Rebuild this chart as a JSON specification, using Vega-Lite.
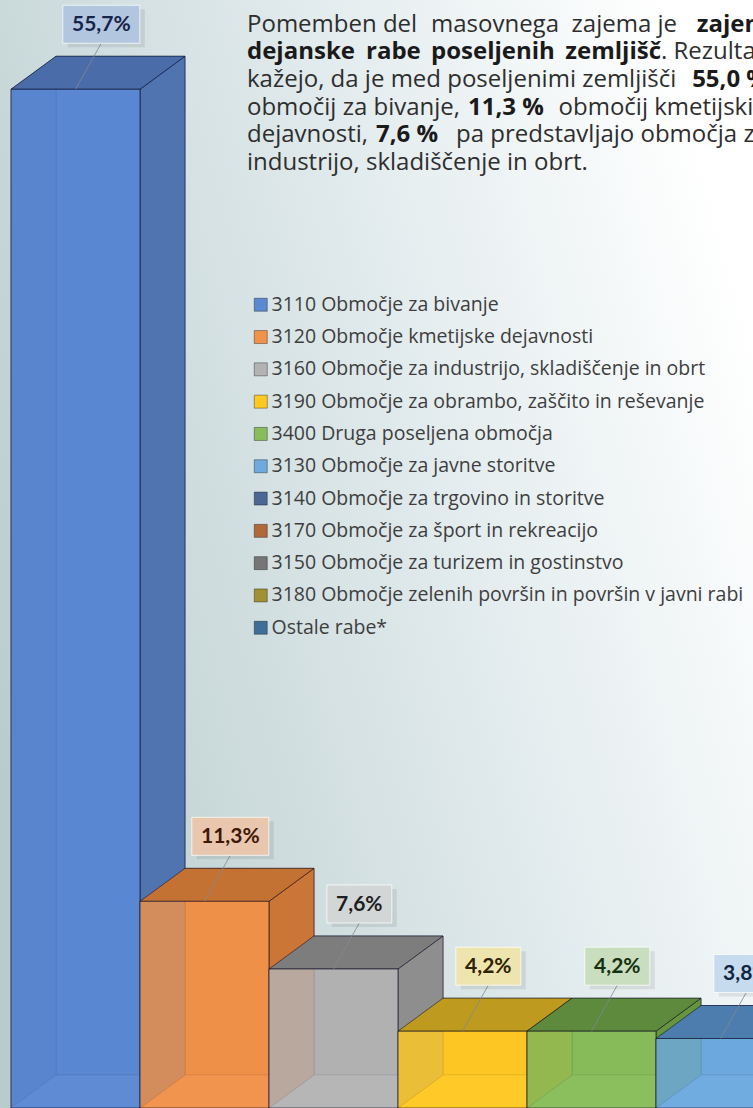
{
  "$schema": "https://vega.github.io/schema/vega-lite/v6.json",
  "width": 753,
  "height": 1108,
  "padding": 0,
  "autosize": {"type": "none"},
  "background": "#ffffff",
  "config": {"view": {"stroke": null}},
  "datasets": {
    "bars": [
      {"cat": "3110 Območje za bivanje", "value": 55.7},
      {"cat": "3120 Območje kmetijske dejavnosti", "value": 11.3},
      {"cat": "3160 Območje za industrijo, skladiščenje in obrt", "value": 7.6},
      {"cat": "3190 Območje za obrambo, zaščito in reševanje", "value": 4.2},
      {"cat": "3400 Druga poseljena območja", "value": 4.2},
      {"cat": "3130 Območje za javne storitve", "value": 3.8}
    ]
  },
  "resolve": {"scale": {"color": "independent"}},
  "layer": [
    {
      "data": {"values": [{}]},
      "mark": {"type": "rect", "color": {"gradient": "linear", "x1": 0, "y1": 0.7, "x2": 1, "y2": 0.3, "stops": [{"offset": 0, "color": "#B9CCCD"}, {"offset": 0.3, "color": "#CEDCDD"}, {"offset": 0.65, "color": "#E6EEF0"}, {"offset": 1, "color": "#FFFFFF"}]}},
      "encoding": {"x": {"value": 0}, "x2": {"value": 753}, "y": {"value": 0}, "y2": {"value": 1108}}
    },
    {
      "data": {"name": "bars"},
      "transform": [
        {"window": [{"op": "row_number", "as": "rn"}]},
        {"calculate": "datum.rn - 1 + 0.3488", "as": "bx0"},
        {"calculate": "datum.rn + 0.3488", "as": "bx1"},
        {"calculate": "1.804", "as": "by0"},
        {"calculate": "datum.value + 1.804", "as": "by1"}
      ],
      "mark": {"type": "rect", "stroke": "rgba(0,0,30,0.45)", "strokeWidth": 1},
      "encoding": {
        "x": {"field": "bx0", "type": "quantitative", "scale": {"domain": [-0.0853, 5.752], "nice": false, "zero": false}, "axis": null},
        "x2": {"field": "bx1"},
        "y": {"field": "by0", "type": "quantitative", "scale": {"domain": [0, 60.58], "nice": false}, "axis": null},
        "y2": {"field": "by1"},
        "color": {"field": "cat", "type": "nominal", "legend": null, "scale": {"domain": ["3110 Območje za bivanje", "3120 Območje kmetijske dejavnosti", "3160 Območje za industrijo, skladiščenje in obrt", "3190 Območje za obrambo, zaščito in reševanje", "3400 Druga poseljena območja", "3130 Območje za javne storitve", "3140 Območje za trgovino in storitve", "3170 Območje za šport in rekreacijo", "3150 Območje za turizem in gostinstvo", "3180 Območje zelenih površin in površin v javni rabi", "Ostale rabe*"], "range": ["#5581CB", "#E6863C", "#A8A8A8", "#F2BD1C", "#7FB353", "#63A0D8", "#3E5A8A", "#94522A", "#5F5F5F", "#8A7420", "#2F5F8C"]}}
      }
    },
    {
      "data": {"name": "bars"},
      "transform": [
        {"window": [{"op": "row_number", "as": "rn"}]},
        {"calculate": "[0, 1]", "as": "k"},
        {"flatten": ["k"]},
        {"calculate": "datum.rn - 1 + datum.k * 0.3488", "as": "ax"},
        {"calculate": "datum.k * 1.804", "as": "ay0"},
        {"calculate": "datum.value + datum.k * 1.804", "as": "ay1"}
      ],
      "mark": {"type": "area", "orient": "vertical", "stroke": "rgba(0,0,30,0.35)", "strokeWidth": 1},
      "encoding": {
        "x": {"field": "ax", "type": "quantitative"},
        "y": {"field": "ay0", "type": "quantitative", "stack": null},
        "y2": {"field": "ay1"},
        "color": {"field": "cat", "type": "nominal", "legend": null, "scale": {"domain": ["3110 Območje za bivanje", "3120 Območje kmetijske dejavnosti", "3160 Območje za industrijo, skladiščenje in obrt", "3190 Območje za obrambo, zaščito in reševanje", "3400 Druga poseljena območja", "3130 Območje za javne storitve", "3140 Območje za trgovino in storitve", "3170 Območje za šport in rekreacijo", "3150 Območje za turizem in gostinstvo", "3180 Območje zelenih površin in površin v javni rabi", "Ostale rabe*"], "range": ["#4A74BC", "#D87A34", "#9A9A9A", "#E3B01A", "#72A549", "#5793CB", "#34507E", "#874A24", "#555555", "#7E6A1C", "#28557F"]}}
      }
    },
    {
      "data": {"name": "bars"},
      "transform": [
        {"window": [{"op": "row_number", "as": "rn"}]},
        {"calculate": "[0, 1]", "as": "k"},
        {"flatten": ["k"]},
        {"calculate": "datum.rn - 1 + datum.k * 0.3488", "as": "fx0"},
        {"calculate": "datum.rn + datum.k * 0.3488", "as": "fx1"},
        {"calculate": "datum.k * 1.804", "as": "fy"}
      ],
      "mark": {"type": "area", "orient": "horizontal", "stroke": "rgba(0,0,30,0.35)", "strokeWidth": 1},
      "encoding": {
        "y": {"field": "fy", "type": "quantitative"},
        "x": {"field": "fx0", "type": "quantitative", "stack": null},
        "x2": {"field": "fx1"},
        "color": {"field": "cat", "type": "nominal", "legend": null, "scale": {"domain": ["3110 Območje za bivanje", "3120 Območje kmetijske dejavnosti", "3160 Območje za industrijo, skladiščenje in obrt", "3190 Območje za obrambo, zaščito in reševanje", "3400 Druga poseljena območja", "3130 Območje za javne storitve", "3140 Območje za trgovino in storitve", "3170 Območje za šport in rekreacijo", "3150 Območje za turizem in gostinstvo", "3180 Območje zelenih površin in površin v javni rabi", "Ostale rabe*"], "range": ["#6A96DA", "#F5A25E", "#C0C0C0", "#FFD43A", "#96C86A", "#7EB6E6", "#4A6796", "#B0693A", "#767676", "#A38F34", "#3F6E99"]}}
      }
    },
    {
      "data": {"name": "bars"},
      "transform": [
        {"window": [{"op": "row_number", "as": "rn"}]},
        {"calculate": "[0, 1]", "as": "k"},
        {"flatten": ["k"]},
        {"calculate": "datum.rn + datum.k * 0.3488", "as": "sx"},
        {"calculate": "datum.k * 1.804", "as": "sy0"},
        {"calculate": "datum.value + datum.k * 1.804", "as": "sy1"}
      ],
      "mark": {"type": "area", "orient": "vertical", "stroke": "rgba(0,0,30,0.5)", "strokeWidth": 1},
      "encoding": {
        "x": {"field": "sx", "type": "quantitative"},
        "y": {"field": "sy0", "type": "quantitative", "stack": null},
        "y2": {"field": "sy1"},
        "color": {"field": "cat", "type": "nominal", "legend": null, "scale": {"domain": ["3110 Območje za bivanje", "3120 Območje kmetijske dejavnosti", "3160 Območje za industrijo, skladiščenje in obrt", "3190 Območje za obrambo, zaščito in reševanje", "3400 Druga poseljena območja", "3130 Območje za javne storitve", "3140 Območje za trgovino in storitve", "3170 Območje za šport in rekreacijo", "3150 Območje za turizem in gostinstvo", "3180 Območje zelenih površin in površin v javni rabi", "Ostale rabe*"], "range": ["#4F74B0", "#CB7637", "#8E8E8E", "#C9A11E", "#67943F", "#5287BA", "#2F4770", "#7D3F18", "#4C4C4C", "#7A6520", "#264D72"]}}
      }
    },
    {
      "data": {"name": "bars"},
      "transform": [
        {"window": [{"op": "row_number", "as": "rn"}]},
        {"calculate": "[0, 1]", "as": "k"},
        {"flatten": ["k"]},
        {"calculate": "datum.rn - 1 + datum.k * 0.3488", "as": "tx0"},
        {"calculate": "datum.rn + datum.k * 0.3488", "as": "tx1"},
        {"calculate": "datum.value + datum.k * 1.804", "as": "ty"}
      ],
      "mark": {"type": "area", "orient": "horizontal", "stroke": "rgba(0,0,30,0.5)", "strokeWidth": 1},
      "encoding": {
        "y": {"field": "ty", "type": "quantitative"},
        "x": {"field": "tx0", "type": "quantitative", "stack": null},
        "x2": {"field": "tx1"},
        "color": {"field": "cat", "type": "nominal", "legend": null, "scale": {"domain": ["3110 Območje za bivanje", "3120 Območje kmetijske dejavnosti", "3160 Območje za industrijo, skladiščenje in obrt", "3190 Območje za obrambo, zaščito in reševanje", "3400 Druga poseljena območja", "3130 Območje za javne storitve", "3140 Območje za trgovino in storitve", "3170 Območje za šport in rekreacijo", "3150 Območje za turizem in gostinstvo", "3180 Območje zelenih površin in površin v javni rabi", "Ostale rabe*"], "range": ["#4A6CA8", "#C47234", "#7D7D7D", "#BE9A1E", "#5E8A3D", "#4C7DAE", "#2F4770", "#7D3F18", "#4C4C4C", "#7A6520", "#264D72"]}}
      }
    },
    {
      "data": {"name": "bars"},
      "transform": [
        {"window": [{"op": "row_number", "as": "rn"}]},
        {"calculate": "datum.rn - 1", "as": "x0"},
        {"calculate": "datum.rn", "as": "x1"},
        {"calculate": "0", "as": "y0"}
      ],
      "mark": {"type": "rect", "fillOpacity": 0.82, "stroke": "rgba(0,0,30,0.55)", "strokeWidth": 1},
      "encoding": {
        "x": {"field": "x0", "type": "quantitative"},
        "x2": {"field": "x1"},
        "y": {"field": "y0", "type": "quantitative"},
        "y2": {"field": "value"},
        "color": {"field": "cat", "type": "nominal", "title": null,
          "scale": {"domain": ["3110 Območje za bivanje", "3120 Območje kmetijske dejavnosti", "3160 Območje za industrijo, skladiščenje in obrt", "3190 Območje za obrambo, zaščito in reševanje", "3400 Druga poseljena območja", "3130 Območje za javne storitve", "3140 Območje za trgovino in storitve", "3170 Območje za šport in rekreacijo", "3150 Območje za turizem in gostinstvo", "3180 Območje zelenih površin in površin v javni rabi", "Ostale rabe*"], "range": ["#5B89D2", "#F0924A", "#B3B3B3", "#FFC823", "#89BD5C", "#6EA9DF", "#4A6796", "#B0693A", "#767676", "#A38F34", "#3F6E99"]},
          "legend": {"orient": "none", "legendX": 251, "legendY": 295, "padding": 0, "symbolType": "square", "symbolSize": 169, "symbolStrokeWidth": 1, "symbolStrokeColor": "rgba(0,0,0,0.35)", "symbolOpacity": 1, "labelFont": "Open Sans", "labelFontSize": 19.5, "labelColor": "#3E3E3E", "labelOffset": 1, "labelLimit": 700, "rowPadding": 11.3}}
      }
    },
    {
      "data": {"name": "bars"},
      "transform": [
        {"window": [{"op": "row_number", "as": "rn"}]},
        {"calculate": "datum.rn - 0.5", "as": "lx0"},
        {"calculate": "datum.rn - 0.3", "as": "lx1"},
        {"calculate": "datum.value + 2.515", "as": "ly1"}
      ],
      "mark": {"type": "rule", "color": "#7F8A90", "strokeWidth": 1, "opacity": 0.8},
      "encoding": {
        "x": {"field": "lx0", "type": "quantitative"},
        "x2": {"field": "lx1"},
        "y": {"field": "value", "type": "quantitative"},
        "y2": {"field": "ly1"}
      }
    },
    {
      "data": {"name": "bars"},
      "transform": [
        {"window": [{"op": "row_number", "as": "rn"}]},
        {"calculate": "replace(format(datum.value, '.1f'), '.', ',') + '%'", "as": "lab"},
        {"calculate": "(12 * length(datum.lab) + 17) / 258", "as": "hw"},
        {"calculate": "datum.rn - 0.3 - datum.hw", "as": "bx0"},
        {"calculate": "datum.rn - 0.3 + datum.hw", "as": "bx1"},
        {"calculate": "datum.value + 2.515", "as": "by0"},
        {"calculate": "datum.value + 4.593", "as": "by1"}
      ],
      "mark": {"type": "rect", "color": "#000000", "opacity": 0.08, "xOffset": 5, "x2Offset": 5, "yOffset": 4, "y2Offset": 4},
      "encoding": {
        "x": {"field": "bx0", "type": "quantitative"},
        "x2": {"field": "bx1"},
        "y": {"field": "by0", "type": "quantitative"},
        "y2": {"field": "by1"}
      }
    },
    {
      "data": {"name": "bars"},
      "transform": [
        {"window": [{"op": "row_number", "as": "rn"}]},
        {"calculate": "replace(format(datum.value, '.1f'), '.', ',') + '%'", "as": "lab"},
        {"calculate": "(12 * length(datum.lab) + 17) / 258", "as": "hw"},
        {"calculate": "datum.rn - 0.3 - datum.hw", "as": "bx0"},
        {"calculate": "datum.rn - 0.3 + datum.hw", "as": "bx1"},
        {"calculate": "datum.value + 2.515", "as": "by0"},
        {"calculate": "datum.value + 4.593", "as": "by1"}
      ],
      "mark": {"type": "rect", "stroke": "rgba(255,255,255,0.75)", "strokeWidth": 1},
      "encoding": {
        "x": {"field": "bx0", "type": "quantitative"},
        "x2": {"field": "bx1"},
        "y": {"field": "by0", "type": "quantitative"},
        "y2": {"field": "by1"},
        "color": {"field": "cat", "type": "nominal", "legend": null, "scale": {"domain": ["3110 Območje za bivanje", "3120 Območje kmetijske dejavnosti", "3160 Območje za industrijo, skladiščenje in obrt", "3190 Območje za obrambo, zaščito in reševanje", "3400 Druga poseljena območja", "3130 Območje za javne storitve", "3140 Območje za trgovino in storitve", "3170 Območje za šport in rekreacijo", "3150 Območje za turizem in gostinstvo", "3180 Območje zelenih površin in površin v javni rabi", "Ostale rabe*"], "range": ["#B3C6E0", "#E8C7AE", "#D3D6D7", "#EEE4AE", "#C9DDBF", "#C6DCEE", "#B8C2D2", "#DCC4B4", "#C8C8C8", "#DDD6B8", "#B8C8D8"]}}
      }
    },
    {
      "data": {"name": "bars"},
      "transform": [
        {"window": [{"op": "row_number", "as": "rn"}]},
        {"calculate": "replace(format(datum.value, '.1f'), '.', ',') + '%'", "as": "lab"},
        {"calculate": "datum.rn - 0.3", "as": "tx"},
        {"calculate": "datum.value + 3.554", "as": "ty"}
      ],
      "mark": {"type": "text", "font": "Lato", "fontWeight": "bold", "fontSize": 21, "baseline": "middle", "align": "center", "dy": 1},
      "encoding": {
        "x": {"field": "tx", "type": "quantitative"},
        "y": {"field": "ty", "type": "quantitative"},
        "text": {"field": "lab", "type": "nominal"},
        "color": {"field": "cat", "type": "nominal", "legend": null, "scale": {"domain": ["3110 Območje za bivanje", "3120 Območje kmetijske dejavnosti", "3160 Območje za industrijo, skladiščenje in obrt", "3190 Območje za obrambo, zaščito in reševanje", "3400 Druga poseljena območja", "3130 Območje za javne storitve", "3140 Območje za trgovino in storitve", "3170 Območje za šport in rekreacijo", "3150 Območje za turizem in gostinstvo", "3180 Območje zelenih površin in površin v javni rabi", "Ostale rabe*"], "range": ["#17244A", "#3E1906", "#1E1E1E", "#2E2200", "#17300F", "#0E2643", "#111111", "#111111", "#111111", "#111111", "#111111"]}}
      }
    },
    {"data": {"values": [{}]}, "mark": {"type": "text", "x": 247, "y": 31.5, "align": "left", "baseline": "alphabetic", "font": "Open Sans", "fontSize": 24, "color": "#2E2E2E", "text": "Pomemben del"}, "encoding": {}},
    {"data": {"values": [{}]}, "mark": {"type": "text", "x": 431, "y": 31.5, "align": "left", "baseline": "alphabetic", "font": "Open Sans", "fontSize": 24, "color": "#2E2E2E", "text": "masovnega"}, "encoding": {}},
    {"data": {"values": [{}]}, "mark": {"type": "text", "x": 677, "y": 31.5, "align": "right", "baseline": "alphabetic", "font": "Open Sans", "fontSize": 24, "color": "#2E2E2E", "text": "zajema je"}, "encoding": {}},
    {"data": {"values": [{}]}, "mark": {"type": "text", "x": 768, "y": 31.5, "align": "right", "baseline": "alphabetic", "font": "Open Sans", "fontSize": 24, "fontWeight": "bold", "color": "#1A1A1A", "text": "zajem"}, "encoding": {}},
    {"data": {"values": [{}]}, "mark": {"type": "text", "x": 247, "y": 59.2, "align": "left", "baseline": "alphabetic", "font": "Open Sans", "fontSize": 24, "fontWeight": "bold", "color": "#1A1A1A", "text": "dejanske"}, "encoding": {}},
    {"data": {"values": [{}]}, "mark": {"type": "text", "x": 366, "y": 59.2, "align": "left", "baseline": "alphabetic", "font": "Open Sans", "fontSize": 24, "fontWeight": "bold", "color": "#1A1A1A", "text": "rabe"}, "encoding": {}},
    {"data": {"values": [{}]}, "mark": {"type": "text", "x": 431, "y": 59.2, "align": "left", "baseline": "alphabetic", "font": "Open Sans", "fontSize": 24, "fontWeight": "bold", "color": "#1A1A1A", "text": "poseljenih"}, "encoding": {}},
    {"data": {"values": [{}]}, "mark": {"type": "text", "x": 661, "y": 59.2, "align": "right", "baseline": "alphabetic", "font": "Open Sans", "fontSize": 24, "fontWeight": "bold", "color": "#1A1A1A", "text": "zemljišč"}, "encoding": {}},
    {"data": {"values": [{}]}, "mark": {"type": "text", "x": 661, "y": 59.2, "align": "left", "baseline": "alphabetic", "font": "Open Sans", "fontSize": 24, "color": "#2E2E2E", "text": ". Rezultati"}, "encoding": {}},
    {"data": {"values": [{}]}, "mark": {"type": "text", "x": 247, "y": 86.9, "align": "left", "baseline": "alphabetic", "font": "Open Sans", "fontSize": 24, "color": "#2E2E2E", "text": "kažejo, da je med poseljenimi zemljišči"}, "encoding": {}},
    {"data": {"values": [{}]}, "mark": {"type": "text", "x": 768, "y": 86.9, "align": "right", "baseline": "alphabetic", "font": "Open Sans", "fontSize": 24, "fontWeight": "bold", "color": "#1A1A1A", "text": "55,0 %"}, "encoding": {}},
    {"data": {"values": [{}]}, "mark": {"type": "text", "x": 247, "y": 114.6, "align": "left", "baseline": "alphabetic", "font": "Open Sans", "fontSize": 24, "color": "#2E2E2E", "text": "območij za bivanje,"}, "encoding": {}},
    {"data": {"values": [{}]}, "mark": {"type": "text", "x": 468, "y": 114.6, "align": "left", "baseline": "alphabetic", "font": "Open Sans", "fontSize": 24, "fontWeight": "bold", "color": "#1A1A1A", "text": "11,3 %"}, "encoding": {}},
    {"data": {"values": [{}]}, "mark": {"type": "text", "x": 768, "y": 114.6, "align": "right", "baseline": "alphabetic", "font": "Open Sans", "fontSize": 24, "color": "#2E2E2E", "text": "območij kmetijskih"}, "encoding": {}},
    {"data": {"values": [{}]}, "mark": {"type": "text", "x": 247, "y": 142.3, "align": "left", "baseline": "alphabetic", "font": "Open Sans", "fontSize": 24, "color": "#2E2E2E", "text": "dejavnosti,"}, "encoding": {}},
    {"data": {"values": [{}]}, "mark": {"type": "text", "x": 376, "y": 142.3, "align": "left", "baseline": "alphabetic", "font": "Open Sans", "fontSize": 24, "fontWeight": "bold", "color": "#1A1A1A", "text": "7,6 %"}, "encoding": {}},
    {"data": {"values": [{}]}, "mark": {"type": "text", "x": 768, "y": 142.3, "align": "right", "baseline": "alphabetic", "font": "Open Sans", "fontSize": 24, "color": "#2E2E2E", "text": "pa predstavljajo območja za"}, "encoding": {}},
    {"data": {"values": [{}]}, "mark": {"type": "text", "x": 247, "y": 170, "align": "left", "baseline": "alphabetic", "font": "Open Sans", "fontSize": 24, "color": "#2E2E2E", "text": "industrijo, skladiščenje in obrt."}, "encoding": {}}
  ]
}
